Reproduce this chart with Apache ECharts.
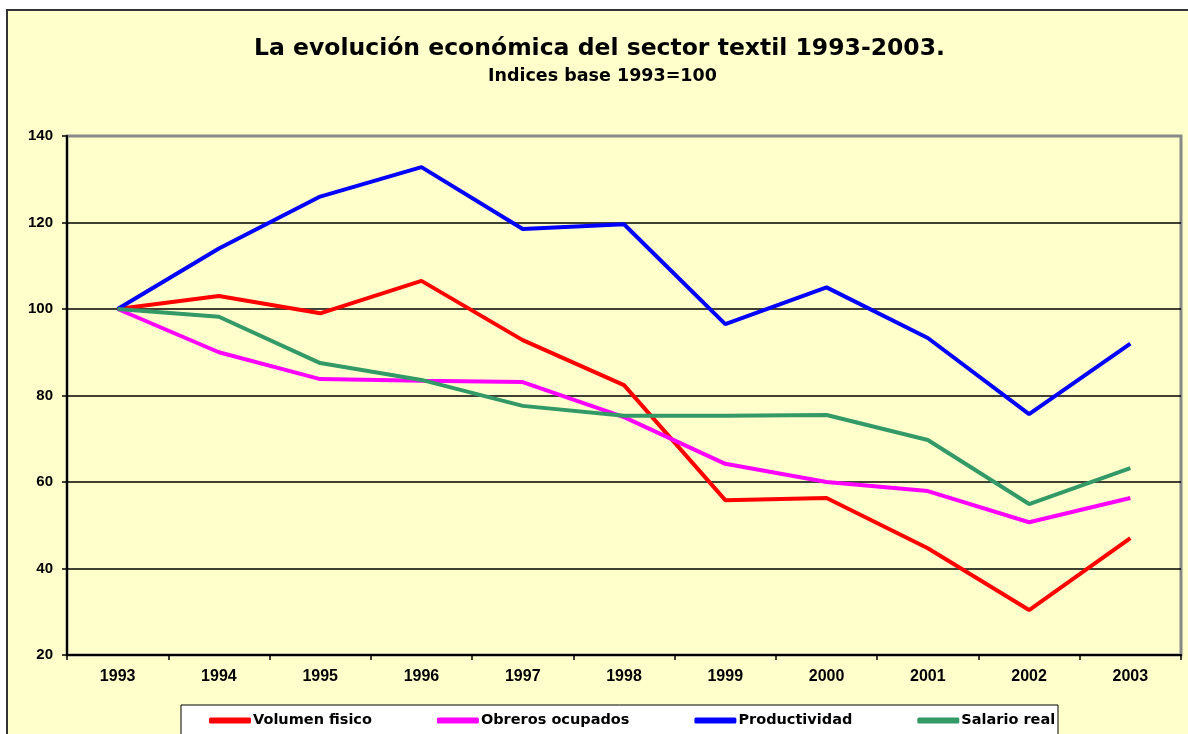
<!DOCTYPE html>
<html>
<head>
<meta charset="utf-8">
<script src="https://cdn.jsdelivr.net/npm/echarts@6/dist/echarts.min.js"></script>
<style>
html,body{margin:0;padding:0;background:#fff;}
#c{width:1188px;height:734px;}
</style>
</head>
<body>
<div id="c"></div>
<script>
const years = ['1993','1994','1995','1996','1997','1998','1999','2000','2001','2002','2003'];
const volumenFisico = [100, 103, 99, 106.5, 92.8, 82.4, 55.8, 56.3, 44.7, 30.4, 47];
const obrerosOcupados = [100, 90, 83.8, 83.4, 83.1, 75, 64.2, 60, 57.9, 50.7, 56.3];
const productividad = [100, 114, 126, 132.8, 118.5, 119.6, 96.5, 105, 93.3, 75.7, 92];
const salarioReal = [100, 98.2, 87.5, 83.6, 77.6, 75.3, 75.3, 75.5, 69.7, 54.9, 63.2];
const seriesNames = ['Volumen fisico', 'Obreros ocupados', 'Productividad', 'Salario real'];
const colors = ['#FF0000', '#FF00FF', '#0000FF', '#339966'];

const font = 'Liberation Sans, Arial, sans-serif';
const wide = 'DejaVu Sans, sans-serif';
const chart = echarts.init(document.getElementById('c'));
const data = [volumenFisico, obrerosOcupados, productividad, salarioReal];

chart.setOption({
  animation: false,
  textStyle: { fontFamily: font },
  graphic: [
    { type: 'rect', z: -10, shape: { x: 7, y: 10, width: 1200, height: 800 },
      style: { fill: '#FFFFCC', stroke: '#333', lineWidth: 2 } },
    { type: 'rect', z: 1, shape: { x: 181, y: 705, width: 877, height: 60 },
      style: { fill: '#FFFFFF', stroke: '#000', lineWidth: 1 } }
  ],
  title: [
    { text: 'La evolución económica del sector textil 1993-2003.', left: 249, top: 32,
      textStyle: { fontFamily: wide, fontSize: 23.5, fontWeight: 'bold', color: '#000' } },
    { text: 'Indices base 1993=100', left: 483, top: 62,
      textStyle: { fontFamily: wide, fontSize: 17.5, fontWeight: 'bold', color: '#000' } }
  ],
  legend: {
    left: 209, top: 713, itemGap: 65, itemWidth: 42, itemHeight: 6, icon: 'roundRect',
    padding: 0,
    textStyle: { fontFamily: wide, fontSize: 14.5, fontWeight: 'bold', color: '#000', padding: [0,0,0,-3] },
    data: seriesNames
  },
  grid: { left: 67, right: 7, top: 136, bottom: 79, show: true, borderColor: '#888', borderWidth: 3, backgroundColor: 'transparent' },
  xAxis: {
    type: 'category', data: years, boundaryGap: true,
    axisLine: { lineStyle: { color: '#000', width: 2 } },
    axisTick: { show: true, length: 5, lineStyle: { color: '#000', width: 1.5 } },
    axisLabel: { color: '#000', fontFamily: font, fontSize: 16, fontWeight: 'bold', margin: 14 }
  },
  yAxis: {
    type: 'value', min: 20, max: 140, interval: 20,
    axisLine: { show: true, lineStyle: { color: '#000', width: 2 } },
    axisTick: { show: true, length: 5, lineStyle: { color: '#000', width: 1.5 } },
    axisLabel: { color: '#000', fontFamily: font, fontSize: 15, fontWeight: 'bold', margin: 14 },
    splitLine: { show: true, lineStyle: { color: ['#000','#000','#000','#000','#000','#000','#888'], width: 1.5 } }
  },
  series: data.map((d, i) => ({
    name: seriesNames[i], type: 'line', data: d, showSymbol: false, symbol: 'none',
    lineStyle: { color: colors[i], width: 4 }, itemStyle: { color: colors[i] }
  }))
});
</script>
</body>
</html>
